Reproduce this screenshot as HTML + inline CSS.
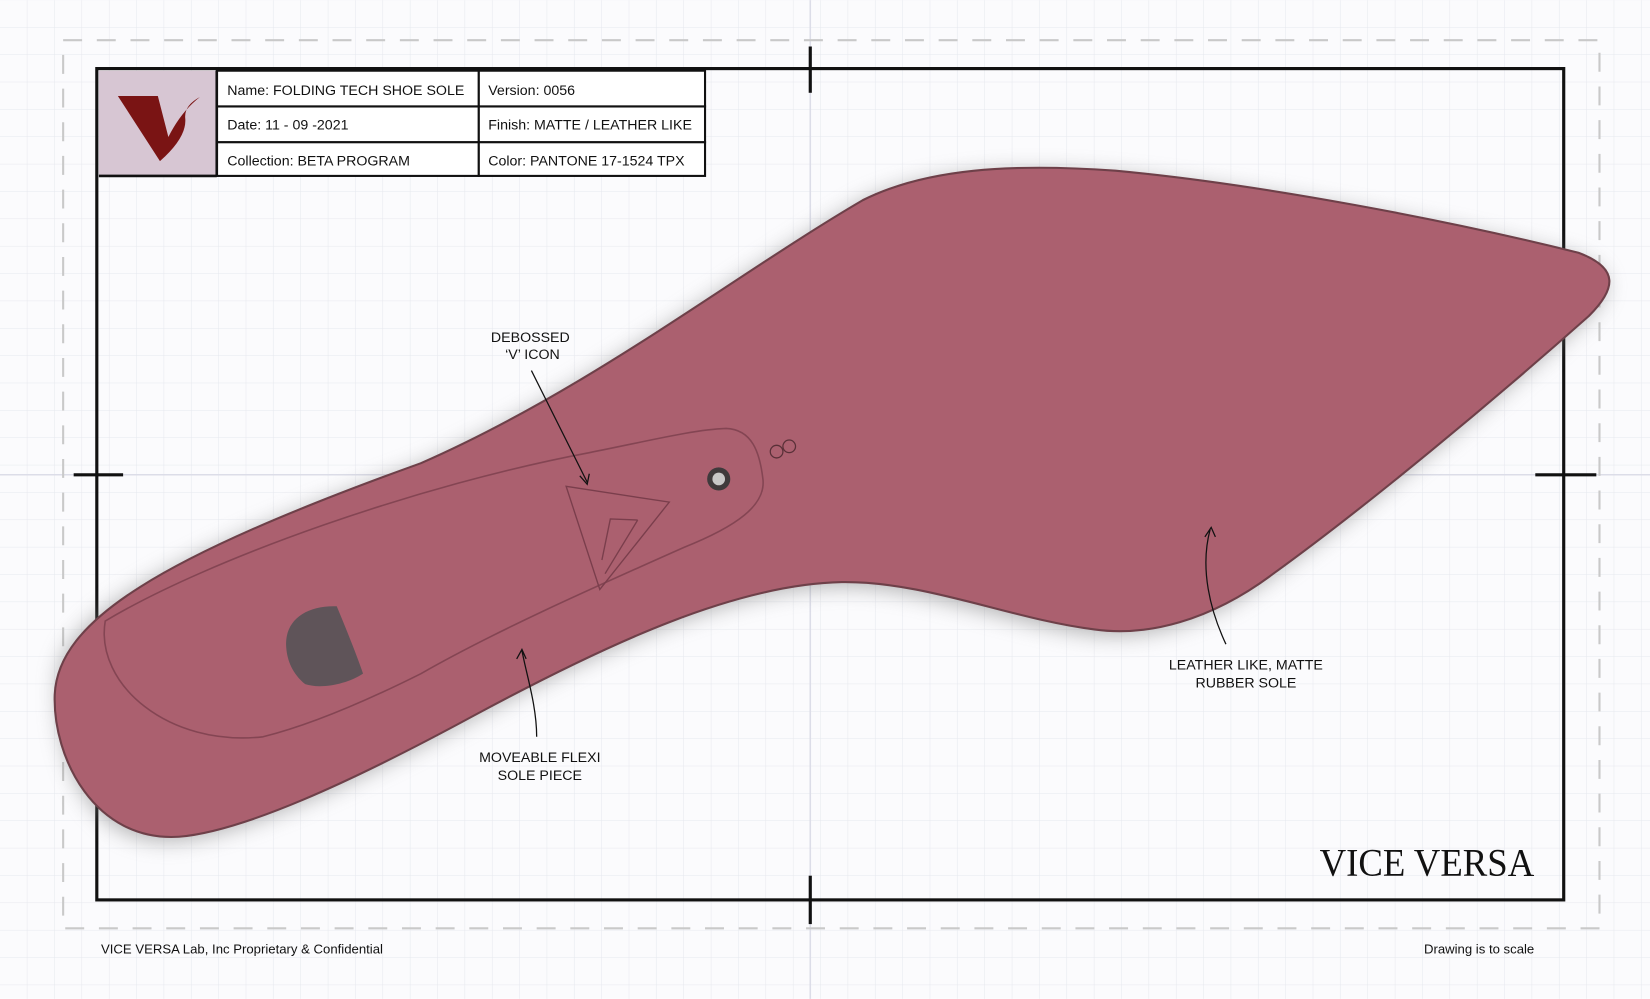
<!DOCTYPE html>
<html><head><meta charset="utf-8"><style>
html,body{margin:0;padding:0;background:#fff;}
svg{display:block}
text{font-family:"Liberation Sans",sans-serif;fill:#111}
</style></head><body>
<svg width="1650" height="999" viewBox="0 0 1568 949" xmlns="http://www.w3.org/2000/svg">
<defs>
<pattern id="g" width="26" height="26" patternUnits="userSpaceOnUse">
<path d="M26 0V26M0 26H26" fill="none" stroke="#e6e8ee" stroke-width="1"/>
</pattern>
<filter id="sh" x="-10%" y="-10%" width="120%" height="130%"><feGaussianBlur stdDeviation="10"/></filter>
</defs>
<rect width="1568" height="949" fill="#fbfbfd"/>
<rect width="1568" height="949" fill="url(#g)"/>
<line x1="770" y1="0" x2="770" y2="949" stroke="#dcdde8" stroke-width="1.5"/>
<line x1="0" y1="451" x2="1568" y2="451" stroke="#dcdde8" stroke-width="1.5"/>
<rect x="60" y="38" width="1460" height="844" fill="none" stroke="#c9c9c9" stroke-width="2" stroke-dasharray="18 14"/>
<rect x="92" y="65" width="1394" height="790" fill="none" stroke="#111" stroke-width="3"/>
<line x1="770" y1="44" x2="770" y2="88" stroke="#111" stroke-width="3"/>
<line x1="770" y1="832" x2="770" y2="878" stroke="#111" stroke-width="3"/>
<line x1="70" y1="451" x2="117" y2="451" stroke="#111" stroke-width="3"/>
<line x1="1459" y1="451" x2="1517" y2="451" stroke="#111" stroke-width="3"/>
<path d="M60,640 C60,580 180,520 400,440 C560,370 700,260 820,190 C880,160 960,155 1060,162 C1200,175 1380,210 1500,240 C1540,255 1535,275 1510,300 C1420,380 1300,480 1210,545 C1150,590 1090,605 1040,598 C960,588 880,552 800,553 C700,555 580,610 450,680 C330,745 230,790 170,795 C90,800 55,720 60,640 Z" fill="#777" opacity="0.55" filter="url(#sh)" transform="translate(-4,4)"/>
<path d="M52,660 C55,590 150,530 400,440 C560,370 700,260 820,190 C880,160 960,155 1060,162 C1200,175 1380,210 1500,240 C1540,255 1535,275 1510,300 C1420,380 1300,480 1210,545 C1150,590 1090,605 1040,598 C960,588 880,552 800,553 C700,555 580,610 450,680 C330,745 230,790 170,795 C90,800 50,720 52,660 Z" fill="#ab606f" stroke="#6e4049" stroke-width="2"/>
<path d="M100,590 C200,530 400,460 560,430 C620,418 660,408 690,407 C715,408 722,430 725,455 C728,480 700,500 650,520 C560,560 470,600 400,640 C340,670 290,690 250,700 C160,710 90,650 100,590 Z" fill="none" stroke="#7a3e4c" stroke-width="1.5" opacity="0.8"/>
<path d="M272,615 C270,590 290,575 320,576 C330,600 340,625 345,640 C330,650 305,655 290,650 C278,640 273,628 272,615 Z" fill="#5f5459"/>
<path d="M538,462 L636,477 L570,560 Z" fill="none" stroke="#7a3e4c" stroke-width="1.3"/>
<path d="M606,494 L575,545 M606,494 L580,493 L572,532" fill="none" stroke="#7a3e4c" stroke-width="1.3"/>
<circle cx="683" cy="455" r="11" fill="#3f3a3c"/>
<circle cx="683" cy="455" r="6" fill="#c8c8c8"/>
<circle cx="738" cy="429" r="6" fill="none" stroke="#5a3038" stroke-width="1.2"/>
<circle cx="750" cy="424" r="6" fill="none" stroke="#5a3038" stroke-width="1.2"/>
<path d="M505,352 L558,458 M551,452 L558,460 L560,450" fill="none" stroke="#111" stroke-width="1.2"/>
<path d="M510,700 C510,670 500,640 496,618 M491,626 L496,617 L500,626" fill="none" stroke="#111" stroke-width="1.2"/>
<path d="M1165,612 C1150,580 1140,540 1150,503 M1145,510 L1151,501 L1155,510" fill="none" stroke="#111" stroke-width="1.2"/>
<text x="504" y="325" font-size="13.5" text-anchor="middle">DEBOSSED</text>
<text x="506" y="341" font-size="13.5" text-anchor="middle">‘V’ ICON</text>
<text x="513" y="724" font-size="13.5" text-anchor="middle">MOVEABLE FLEXI</text>
<text x="513" y="741" font-size="13.5" text-anchor="middle">SOLE PIECE</text>
<text x="1184" y="636" font-size="13.5" text-anchor="middle">LEATHER LIKE, MATTE</text>
<text x="1184" y="653" font-size="13.5" text-anchor="middle">RUBBER SOLE</text>
<rect x="94" y="67" width="112" height="100" fill="#d7c6d3"/>
<path d="M112,91 L150,91 L160,130 Q172,106 190,92 Q175,100 176,112 Q178,130 152,153 Z" fill="#7a1414"/>
<g fill="#fff" stroke="#111" stroke-width="2">
<rect x="206" y="67" width="249" height="34"/><rect x="455" y="67" width="215" height="34"/>
<rect x="206" y="101" width="249" height="34"/><rect x="455" y="101" width="215" height="34"/>
<rect x="206" y="135" width="249" height="32"/><rect x="455" y="135" width="215" height="32"/>
</g>
<line x1="94" y1="167" x2="206" y2="167" stroke="#111" stroke-width="2.5"/>
<line x1="206" y1="67" x2="206" y2="167" stroke="#111" stroke-width="2.5"/>
<g font-size="13.5">
<text x="216" y="90">Name:  FOLDING TECH SHOE SOLE</text>
<text x="464" y="90">Version:  0056</text>
<text x="216" y="123">Date: 11 - 09 -2021</text>
<text x="464" y="123">Finish:  MATTE / LEATHER LIKE</text>
<text x="216" y="157">Collection: BETA PROGRAM</text>
<text x="464" y="157">Color:  PANTONE 17-1524 TPX</text>
</g>
<text x="1254" y="832" font-size="37" textLength="204" lengthAdjust="spacingAndGlyphs" style="font-family:'Liberation Serif',serif">VICE VERSA</text>
<text x="96" y="906" font-size="12.5">VICE VERSA Lab, Inc Proprietary &amp; Confidential</text>
<text x="1458" y="906" font-size="12.5" text-anchor="end">Drawing is to scale</text>
</svg>
</body></html>
